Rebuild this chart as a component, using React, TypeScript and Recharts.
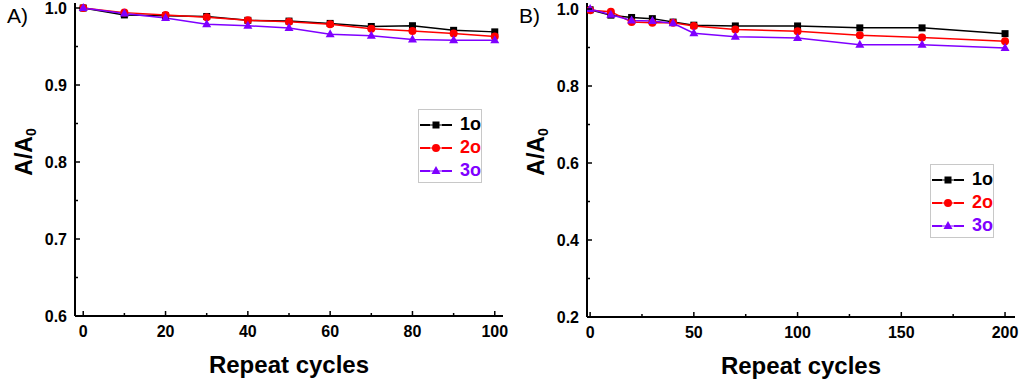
import React from 'react';
import { LineChart, Line, XAxis, YAxis, Legend } from 'recharts';

const cyclesA = [0, 10, 20, 30, 40, 50, 60, 70, 80, 90, 100];
const a1o = [1.0, 0.991, 0.990, 0.989, 0.984, 0.983, 0.980, 0.976, 0.977, 0.971, 0.969];
const a2o = [1.0, 0.994, 0.991, 0.988, 0.984, 0.982, 0.979, 0.973, 0.970, 0.967, 0.963];
const a3o = [1.0, 0.993, 0.987, 0.979, 0.977, 0.974, 0.966, 0.964, 0.959, 0.958, 0.958];

const cyclesB = [0, 10, 20, 30, 40, 50, 70, 100, 130, 160, 200];
const b1o = [0.998, 0.984, 0.978, 0.975, 0.966, 0.958, 0.956, 0.956, 0.951, 0.951, 0.936];
const b2o = [0.997, 0.993, 0.966, 0.964, 0.964, 0.956, 0.947, 0.942, 0.932, 0.926, 0.916];
const b3o = [1.0, 0.985, 0.970, 0.969, 0.963, 0.937, 0.928, 0.925, 0.907, 0.907, 0.899];

const xTicksA = [0, 10, 20, 30, 40, 50, 60, 70, 80, 90, 100];
const xMajorA = [0, 20, 40, 60, 80, 100];
const yTicksA = [0.6, 0.65, 0.7, 0.75, 0.8, 0.85, 0.9, 0.95, 1.0];
const yMajorA = [0.6, 0.7, 0.8, 0.9, 1.0];

const xTicksB = [0, 25, 50, 75, 100, 125, 150, 175, 200];
const xMajorB = [0, 50, 100, 150, 200];
const yTicksB = [0.2, 0.3, 0.4, 0.5, 0.6, 0.7, 0.8, 0.9, 1.0];
const yMajorB = [0.2, 0.4, 0.6, 0.8, 1.0];

const seriesNames = ['1o', '2o', '3o'];
const colors = ['#000000', '#ff0000', '#7f00ff'];
const shapes = ['square', 'circle', 'triangle'];

const FONT = '"Liberation Sans", Arial, sans-serif';

const toRows = (xs: number[], ys: number[][]) =>
  xs.map((x, i) => ({ x, s0: ys[0][i], s1: ys[1][i], s2: ys[2][i] }));

const dataA = toRows(cyclesA, [a1o, a2o, a3o]);
const dataB = toRows(cyclesB, [b1o, b2o, b3o]);

function Marker({ cx, cy, shape, color }: any) {
  if (cx == null || cy == null) return null;
  if (shape === 'square') return <rect x={cx - 3.5} y={cy - 3.5} width={7} height={7} fill={color} />;
  if (shape === 'circle') return <circle cx={cx} cy={cy} r={4} fill={color} />;
  return <polygon points={`${cx},${cy - 5} ${cx - 4.5},${cy + 3} ${cx + 4.5},${cy + 3}`} fill={color} />;
}

const YTick = ({ x, y, payload, majors }: any) => {
  const major = majors.includes(payload.value);
  return (
    <g>
      <line x1={x + 8} x2={x + 8 + (major ? 5 : 3)} y1={y} y2={y} stroke="#000" strokeWidth={1.5} />
      {major && (
        <text x={x} y={y} dy="0.36em" textAnchor="end" fontFamily={FONT} fontWeight="bold" fontSize={16} fill="#000">
          {payload.value.toFixed(1)}
        </text>
      )}
    </g>
  );
};

const XTick = ({ x, y, payload, majors }: any) => {
  const major = majors.includes(payload.value);
  return (
    <g>
      <line x1={x} x2={x} y1={y} y2={y - (major ? 5 : 3)} stroke="#000" strokeWidth={1.5} />
      {major && (
        <text x={x} y={y + 21} textAnchor="middle" fontFamily={FONT} fontWeight="bold" fontSize={16} fill="#000">
          {payload.value}
        </text>
      )}
    </g>
  );
};

const LegendBox = () => (
  <div
    style={{
      width: 64,
      border: '1px solid #c8c8c8',
      background: '#fff',
      padding: '3px 0 0 1px',
      boxSizing: 'border-box',
      fontFamily: FONT,
    }}
  >
    {seriesNames.map((name, i) => (
      <div key={name} style={{ display: 'flex', alignItems: 'center', height: 23 }}>
        <svg width={32} height={12}>
          <line x1={0} x2={10} y1={6} y2={6} stroke={colors[i]} strokeWidth={2} />
          <line x1={22} x2={32} y1={6} y2={6} stroke={colors[i]} strokeWidth={2} />
          <line x1={10} x2={22} y1={6} y2={6} stroke={colors[i]} strokeWidth={1} />
          <Marker cx={16} cy={6} shape={shapes[i]} color={colors[i]} />
        </svg>
        <span style={{ marginLeft: 8, fontWeight: 'bold', fontSize: 18, color: colors[i] }}>{name}</span>
      </div>
    ))}
  </div>
);

const YTitle = ({ viewBox }: any) => {
  const cx = viewBox.x + 24;
  const cy = 152;
  return (
    <text
      x={cx}
      y={cy}
      transform={`rotate(-90 ${cx} ${cy})`}
      textAnchor="middle"
      dominantBaseline="central"
      fontFamily={FONT}
      fontWeight="bold"
      fontSize={23}
      fill="#000"
    >
      A/A
      <tspan fontSize={14} dy={7}>0</tspan>
    </text>
  );
};

const XTitle = ({ viewBox }: any) => (
  <text
    x={viewBox.x + viewBox.width / 2}
    y={viewBox.y + 57}
    textAnchor="middle"
    fontFamily={FONT}
    fontWeight="bold"
    fontSize={24}
    fill="#000"
  >
    Repeat cycles
  </text>
);

function Panel({ data, xDomain, yDomain, xTicks, xMajors, yTicks, yMajors, legendTop, bottom }: any) {
  return (
    <LineChart width={512} height={381} data={data} margin={{ top: 3, right: 9, bottom, left: 0 }}>
      <XAxis
        dataKey="x"
        type="number"
        domain={xDomain}
        ticks={xTicks}
        interval={0}
        height={65}
        tickSize={0}
        tickMargin={0}
        tickLine={false}
        axisLine={{ stroke: '#000', strokeWidth: 2 }}
        tick={<XTick majors={xMajors} />}
        allowDataOverflow
        label={{ content: <XTitle /> } as any}
      />
      <XAxis
        xAxisId="top"
        dataKey="x"
        type="number"
        orientation="top"
        domain={xDomain}
        height={0}
        tick={false}
        tickLine={false}
        axisLine={{ stroke: '#000', strokeWidth: 2 }}
        allowDataOverflow
      />
      <YAxis
        type="number"
        domain={yDomain}
        ticks={yTicks}
        interval={0}
        width={75}
        tickSize={0}
        tickMargin={8}
        tickLine={false}
        axisLine={{ stroke: '#000', strokeWidth: 2 }}
        tick={<YTick majors={yMajors} />}
        allowDataOverflow
        label={{ content: <YTitle /> } as any}
      />
      <YAxis
        yAxisId="right"
        type="number"
        orientation="right"
        domain={yDomain}
        width={0}
        tick={false}
        tickLine={false}
        axisLine={{ stroke: '#000', strokeWidth: 2 }}
        allowDataOverflow
      />
      <Legend
        layout="vertical"
        align="center"
        verticalAlign="middle"
        content={<LegendBox />}
        wrapperStyle={{ left: 418, top: legendTop, width: 64, height: 'auto' }}
      />
      {[0, 1, 2].map((i) => (
        <Line
          key={i}
          dataKey={`s${i}`}
          name={seriesNames[i]}
          stroke={colors[i]}
          strokeWidth={1.5}
          isAnimationActive={false}
          dot={(p: any) => <Marker key={`${i}-${p.index}`} cx={p.cx} cy={p.cy} shape={shapes[i]} color={colors[i]} />}
          activeDot={false}
        />
      ))}
    </LineChart>
  );
}

export default function App() {
  const labelStyle: React.CSSProperties = {
    position: 'absolute',
    top: 4,
    fontFamily: FONT,
    fontSize: 21,
    color: '#000',
  };
  return (
    <div style={{ position: 'absolute', left: 0, top: 0, width: 1024, height: 381, background: '#fff', display: 'flex' }}>
      <Panel
        data={dataA}
        xDomain={[-2, 102]}
        yDomain={[0.6, 1.0065]}
        xTicks={xTicksA}
        xMajors={xMajorA}
        yTicks={yTicksA}
        yMajors={yMajorA}
        legendTop={109}
        bottom={0}
      />
      <Panel
        data={dataB}
        xDomain={[-1.5, 204.8]}
        yDomain={[0.2, 1.0156]}
        xTicks={xTicksB}
        xMajors={xMajorB}
        yTicks={yTicksB}
        yMajors={yMajorB}
        legendTop={164}
        bottom={-1}
      />
      <div style={{ ...labelStyle, left: 7 }}>A)</div>
      <div style={{ ...labelStyle, left: 519 }}>B)</div>
    </div>
  );
}
